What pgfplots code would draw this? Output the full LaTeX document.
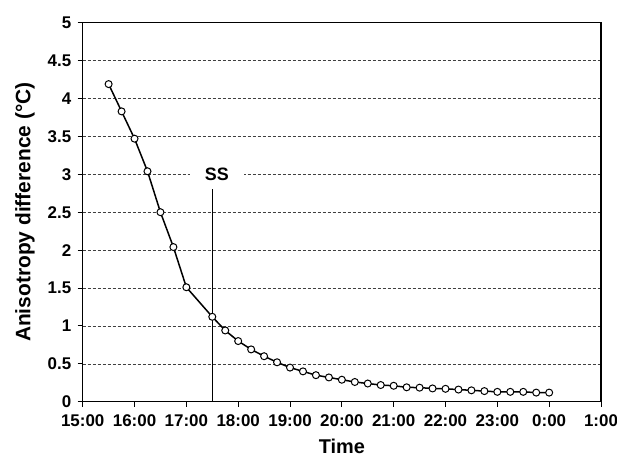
\documentclass[border=0pt]{standalone}
\usepackage{fontspec}
\setmainfont{Liberation Sans}
\usepackage{pgfplots}
\pgfplotsset{compat=1.18}
\begin{document}
\begin{tikzpicture}
\begin{axis}[
    at={(0,0)}, anchor=south west,
    scale only axis,
    width=518.3bp, height=379bp,
    xmin=15, xmax=25, ymin=0, ymax=5,
    xtick={15,16,...,25},
    xticklabels={15:00,16:00,17:00,18:00,19:00,20:00,21:00,22:00,23:00,0:00,1:00},
    ytick={0,0.5,...,5},
    /pgf/number format/assume math mode=true,
    ticklabel style={font=\fontsize{17}{20}\selectfont\bfseries},
    xtick pos=bottom, ytick pos=left,
    tick align=outside,
    major tick length=5bp,
    tick style={black, line width=1bp},
    axis line style={black, line width=1.4bp},
    ymajorgrids,
    major grid style={black!75, line width=0.6bp, dash pattern=on 3bp off 2bp},
    xticklabel style={yshift=-4bp},
    yticklabel style={xshift=-3bp},
    xlabel={Time},
    ylabel={Anisotropy difference (°C)},
    every axis x label/.style={at={(axis description cs:0.5,-0.137)}, anchor=base,
        font=\fontsize{20}{24}\selectfont\bfseries},
    every axis y label/.style={at={(axis description cs:-0.092,0.5)}, rotate=90, anchor=south, inner sep=0pt,
        font=\fontsize{21}{25}\selectfont\bfseries},
    clip=false,
]
% steady state marker
\addplot[black, line width=1bp, forget plot] coordinates {(17.5,0) (17.5,2.8)};
\node[fill=white, inner xsep=15bp, inner ysep=3bp, font=\fontsize{18}{21}\selectfont\bfseries]
    at (axis cs:17.59,3) {SS};
\addplot[black, line width=1.5bp, mark=*, mark size=3.5bp,
    mark options={fill=white, draw=black, line width=1bp}] coordinates {
    (15.5,4.19) (15.75,3.83) (16,3.47) (16.25,3.04) (16.5,2.50) (16.75,2.04) (17,1.51)
    (17.5,1.12) (17.75,0.94) (18,0.80) (18.25,0.69) (18.5,0.60) (18.75,0.52)
    (19,0.45) (19.25,0.40) (19.5,0.35) (19.75,0.32) (20,0.29) (20.25,0.26)
    (20.5,0.24) (20.75,0.22) (21,0.21) (21.25,0.19) (21.5,0.185) (21.75,0.175)
    (22,0.17) (22.25,0.16) (22.5,0.15) (22.75,0.14) (23,0.13) (23.25,0.13)
    (23.5,0.13) (23.75,0.12) (24,0.12)
};
\end{axis}
\pgfresetboundingbox
\useasboundingbox (-82.7bp,-55.3bp) rectangle (534.3bp,401.7bp);
\end{tikzpicture}
\end{document}
